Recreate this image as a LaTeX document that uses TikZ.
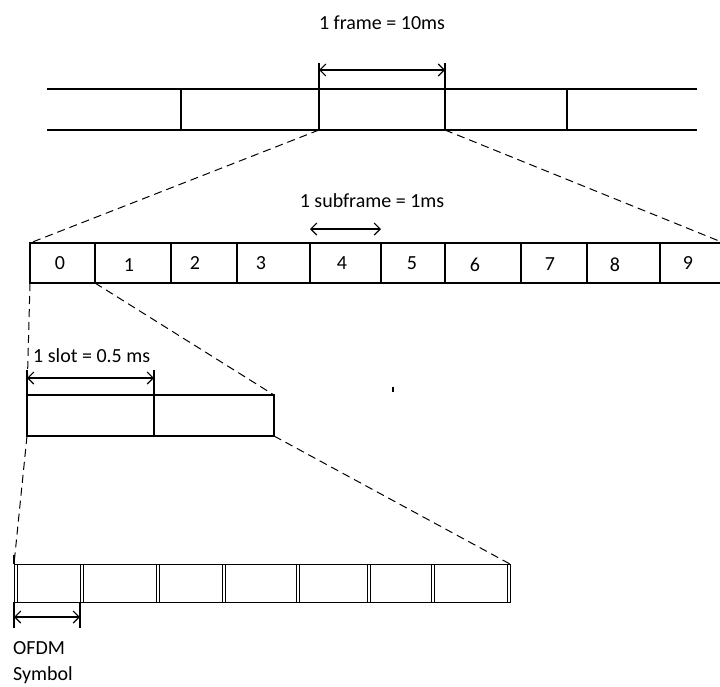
\documentclass[tikz,border=0pt]{standalone}
\usepackage{fontspec}
\setmainfont{Carlito}
\usetikzlibrary{positioning,arrows.meta}
\tikzset{
cell/.style={draw,line width=1.1pt,inner sep=0pt,outer sep=0pt,anchor=north west,minimum height=#1},
symcell/.style={cell=#1,line width=0.9pt},
lbl/.style={inner sep=0pt,font=\fontsize{20}{26}\selectfont},
rule/.style={line width=1.1pt},
dashline/.style={line width=1pt,dash pattern=on 8pt off 5pt},
dim/.style={{Straight Barb[length=6pt,width=12pt]}-{Straight Barb[length=6pt,width=12pt]},line width=1.1pt}
}

\begin{document}
\begin{tikzpicture}[x=1pt,y=-1pt]
\useasboundingbox (0,0) rectangle (720,686);
% frame row
\node[cell=41pt,minimum width=138pt](f1) at (181,89){};
\node[cell=41pt,minimum width=126pt](f2) at (319,89){};
\node[cell=41pt,minimum width=122pt](f3) at (445,89){};
\coordinate (fL) at (47,89);
\coordinate (fR) at (697,89);
\draw[rule](fL)--(f1.north west) (fL|-f1.south)--(f1.south west);
\draw[rule](f3.north east)--(fR) (f3.south east)--(fR|-f3.south);
\draw[rule](f2.north west)--++(0,-26) (f2.north east)--++(0,-26);
\draw[dim]([yshift=19pt]f2.north west)--([yshift=19pt]f2.north east);
\node[lbl,anchor=base](ftxt) at (382,29){1 frame = 10ms};
% subframes
\foreach \i/\a/\b/\c/\y in {0/30/95/60/263,1/95/171/129/265,2/171/237/195/263,3/237/310/261/263,4/310/381/342/263,5/381/445/412/263,6/445/521/475/265,7/521/587/550/264,8/587/660/615/265,9/660/724/688/263}{
\node[cell=40pt,minimum width=\b-\a](s\i) at (\a,243){};
\node[lbl](n\i) at (\c,\y){\i};
}
\draw[dashline](f2.south west)--(s0.north west);
\draw[dashline](f2.south east)--(s9.north east);
\draw[dim]([yshift=14pt]s4.north west)--([yshift=14pt]s4.north east);
\node[lbl,anchor=base](stxt) at (372,207){1 subframe = 1ms};
% slots
\node[cell=41pt,minimum width=127pt](t0) at (27,395){};
\node[cell=41pt,minimum width=120pt](t1) at (154,395){};
\draw[dashline](s0.south west)--(t0.north west);
\draw[dashline](s0.south east)--(t1.north east);
\draw[rule](t0.north west)--++(0,-25) (t0.north east)--++(0,-25);
\draw[dim]([yshift=17pt]t0.north west)--([yshift=17pt]t0.north east);
\node[lbl,anchor=base west](ttxt) at (33,362){1 slot = 0.5 ms};
\fill (392,387) rectangle (394,392);
% OFDM symbols
\foreach \i/\a/\b in {1/14/80,2/80/156,3/156/222,4/222/296,5/296/367,6/367/431,7/431/510}{
\node[symcell=38pt,minimum width=\b-\a](y\i) at (\a,564){};
\draw[line width=0.9pt]([xshift=3pt]y\i.north west)--([xshift=3pt]y\i.south west);
}
\draw[line width=0.9pt]([xshift=-3pt]y7.north east)--([xshift=-3pt]y7.south east);
\draw[dashline](t0.south west)--(y1.north west);
\draw[dashline](t1.south east)--(y7.north east);
\draw[rule](y1.north west)--++(0,-9);
\draw[rule](y1.south west)--++(0,26) (y1.south east)--++(0,26);
\draw[dim]([yshift=-15pt]y1.south west)--([yshift=-15pt]y1.south east);
\node[lbl,anchor=north west,align=left](otxt) at (13,641){OFDM\\Symbol};
\end{tikzpicture}
\end{document}
